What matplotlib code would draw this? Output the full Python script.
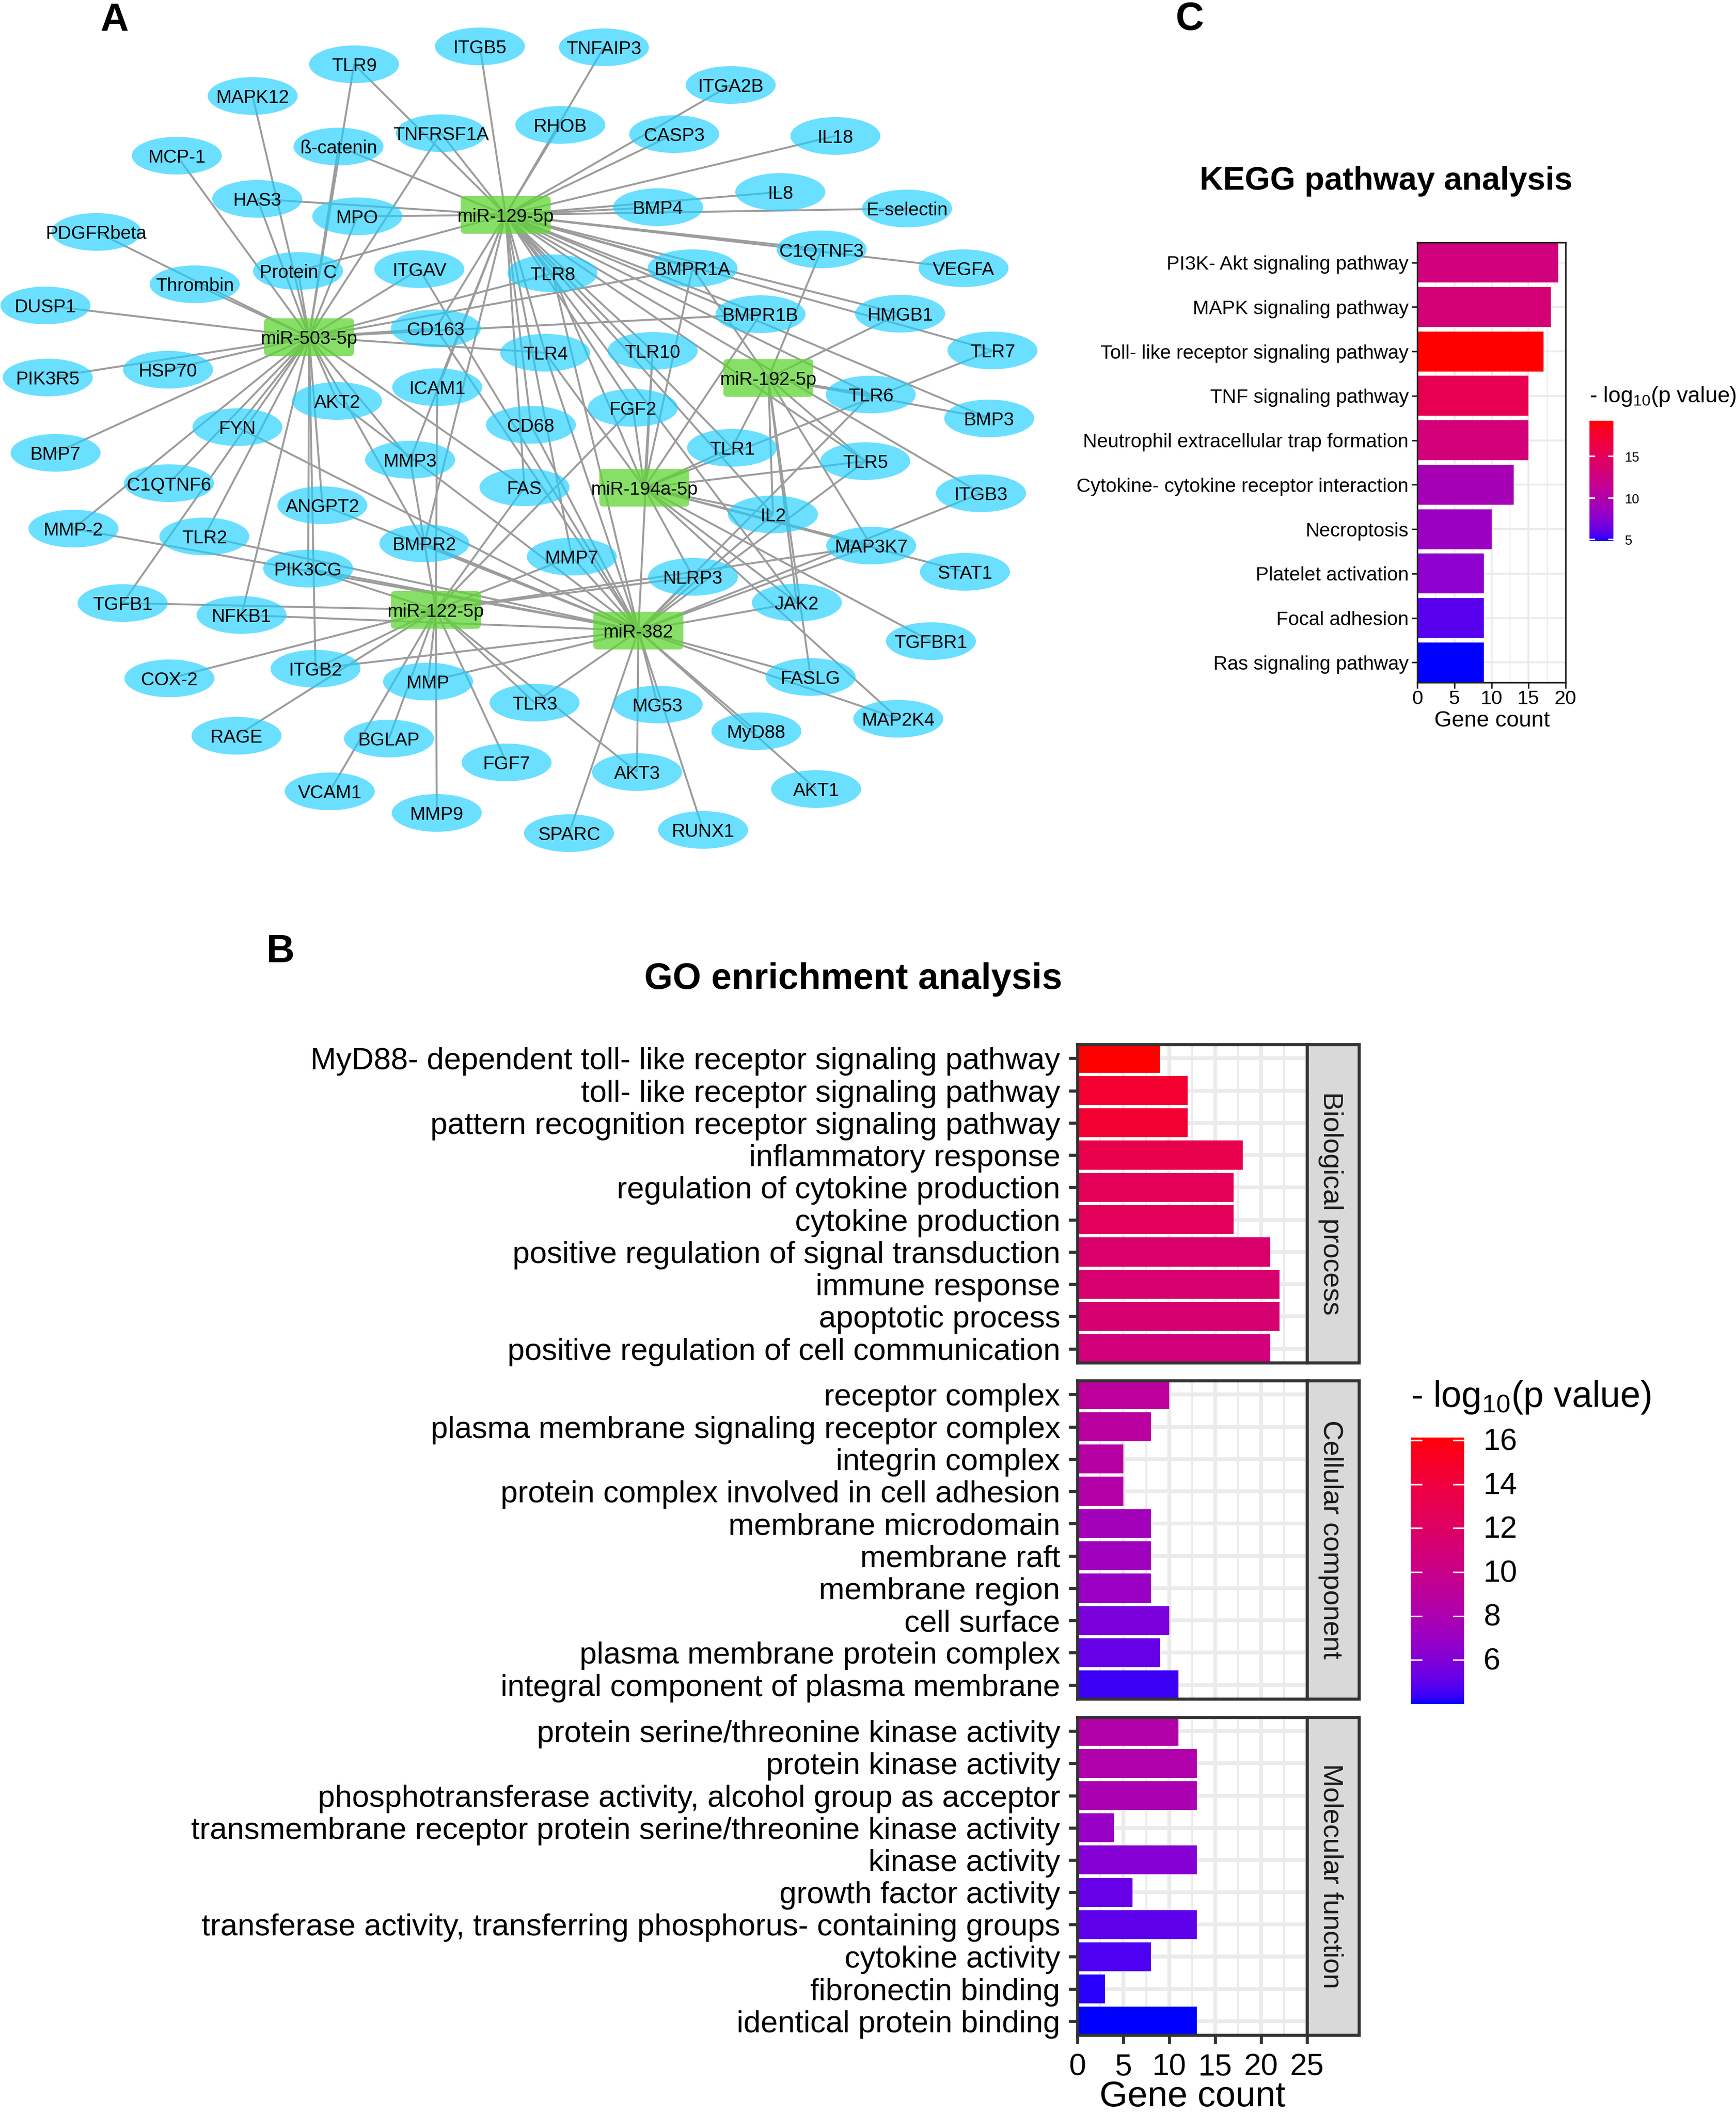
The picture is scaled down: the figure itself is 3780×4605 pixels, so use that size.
import numpy as np
import matplotlib
matplotlib.use("Agg")
import matplotlib.pyplot as plt
from matplotlib.colors import LinearSegmentedColormap, Normalize
from matplotlib.patches import Ellipse, FancyBboxPatch, Rectangle

plt.rcParams['font.family'] = ['Liberation Sans', 'DejaVu Sans']
plt.rcParams['mathtext.default'] = 'regular'
plt.rcParams['mathtext.fontset'] = 'custom'
plt.rcParams['mathtext.rm'] = 'Liberation Sans'

W, H = 3780, 4605

# ---------------- network data (layout) ----------------
hubs = {
    'miR-129-5p': (1101, 468), 'miR-503-5p': (673, 734), 'miR-192-5p': (1673, 823),
    'miR-194a-5p': (1403, 1062), 'miR-122-5p': (949, 1328), 'miR-382': (1390, 1373),
}
genes = {
    'TLR9': (771, 140), 'ITGB5': (1045, 101), 'MAPK12': (550, 209), 'MCP-1': (385, 339),
    'ß-catenin': (737, 319), 'TNFRSF1A': (960, 290), 'RHOB': (1220, 272), 'HAS3': (560, 433),
    'MPO': (778, 471), 'PDGFRbeta': (210, 505), 'Thrombin': (424, 619), 'Protein C': (649, 590),
    'ITGAV': (913, 586), 'TLR8': (1203, 595), 'DUSP1': (99, 665), 'CD163': (949, 715),
    'TLR4': (1187, 768), 'PIK3R5': (104, 822), 'HSP70': (366, 805), 'ICAM1': (952, 843),
    'AKT2': (734, 873), 'FYN': (517, 930), 'CD68': (1156, 925), 'BMP7': (121, 986),
    'TNFAIP3': (1315, 103), 'ITGA2B': (1591, 185), 'CASP3': (1468, 292), 'IL18': (1819, 296),
    'IL8': (1699, 418), 'BMP4': (1433, 451), 'E-selectin': (1975, 454), 'C1QTNF3': (1789, 543),
    'VEGFA': (2098, 584), 'BMPR1A': (1508, 584), 'BMPR1B': (1656, 684), 'HMGB1': (1960, 683),
    'TLR7': (2161, 763), 'TLR10': (1421, 764), 'TLR6': (1896, 859), 'BMP3': (2154, 911),
    'FGF2': (1378, 888), 'TLR1': (1594, 975), 'C1QTNF6': (368, 1052), 'MMP-2': (160, 1151),
    'TLR2': (445, 1168), 'MMP3': (893, 1001), 'FAS': (1142, 1061), 'ANGPT2': (702, 1100),
    'BMPR2': (924, 1183), 'MMP7': (1245, 1212), 'PIK3CG': (671, 1238), 'TGFB1': (267, 1313),
    'NFKB1': (526, 1339), 'ITGB2': (687, 1456), 'COX-2': (369, 1477), 'MMP': (932, 1484),
    'TLR3': (1164, 1530), 'RAGE': (515, 1602), 'BGLAP': (847, 1608), 'FGF7': (1103, 1660),
    'VCAM1': (718, 1723), 'MMP9': (951, 1770), 'SPARC': (1239, 1814), 'TLR5': (1884, 1004),
    'ITGB3': (2136, 1074), 'IL2': (1683, 1120), 'MAP3K7': (1897, 1188), 'STAT1': (2101, 1245),
    'NLRP3': (1509, 1256), 'JAK2': (1735, 1312), 'TGFBR1': (2027, 1396), 'FASLG': (1765, 1474),
    'MG53': (1432, 1534), 'MAP2K4': (1956, 1565), 'MyD88': (1647, 1592), 'AKT3': (1387, 1681),
    'AKT1': (1777, 1718), 'RUNX1': (1531, 1807),
}
targets = {
    'miR-129-5p': ['TLR9', 'ITGB5', 'TNFAIP3', 'ß-catenin', 'TNFRSF1A', 'RHOB', 'HAS3', 'MPO',
                   'Protein C', 'ITGA2B', 'CASP3', 'IL18', 'IL8', 'BMP4', 'E-selectin', 'C1QTNF3',
                   'VEGFA', 'BMPR1A', 'BMPR1B', 'HMGB1', 'TLR7', 'BMP3', 'ITGB3', 'TLR8', 'CD163',
                   'ICAM1', 'MMP3', 'BMPR2', 'TLR4', 'TLR10', 'CD68', 'FAS', 'MMP7', 'FGF2', 'TLR1',
                   'TLR5', 'IL2', 'JAK2', 'TLR6'],
    'miR-503-5p': ['MAPK12', 'MCP-1', 'TLR9', 'ß-catenin', 'TNFRSF1A', 'HAS3', 'MPO', 'PDGFRbeta',
                   'Thrombin', 'Protein C', 'ITGAV', 'DUSP1', 'HSP70', 'PIK3R5', 'BMP7', 'FYN',
                   'C1QTNF6', 'MMP-2', 'TLR2', 'TGFB1', 'NFKB1', 'ANGPT2', 'PIK3CG', 'ITGB2', 'AKT2',
                   'MMP3', 'BMPR2', 'FAS', 'CD163', 'TLR4', 'TLR8', 'BMPR1A', 'BMPR1B'],
    'miR-192-5p': ['BMPR1A', 'C1QTNF3', 'HMGB1', 'BMP3', 'TLR6', 'TLR1', 'IL2', 'JAK2', 'FASLG',
                   'TLR5', 'MAP3K7'],
    'miR-194a-5p': ['BMPR1A', 'BMPR1B', 'TLR7', 'FGF2', 'TLR10', 'TLR1', 'TLR5', 'IL2', 'MAP3K7',
                    'STAT1', 'NLRP3', 'JAK2', 'TGFBR1', 'MAP2K4', 'TLR8', 'TLR4'],
    'miR-122-5p': ['TGFB1', 'COX-2', 'RAGE', 'ITGB2', 'MMP', 'BGLAP', 'VCAM1', 'MMP9', 'FGF7', 'TLR3',
                   'AKT3', 'PIK3CG', 'ICAM1', 'MMP3', 'BMPR2', 'FAS', 'MMP7', 'FGF2', 'NLRP3', 'MAP3K7'],
    'miR-382': ['ITGAV', 'FYN', 'MMP-2', 'TLR2', 'NFKB1', 'ANGPT2', 'PIK3CG', 'ITGB2', 'MMP', 'TLR3',
                'AKT3', 'AKT2', 'CD163', 'CD68', 'BMPR2', 'MMP7', 'TLR4', 'TLR8', 'TLR10', 'ITGB3',
                'TLR6', 'TLR5', 'IL2', 'NLRP3', 'JAK2', 'MAP3K7', 'FASLG', 'MAP2K4', 'MG53', 'MyD88',
                'AKT1', 'RUNX1', 'SPARC'],
}

# ---------------- KEGG data ----------------
kegg_terms = ['PI3K- Akt signaling pathway', 'MAPK signaling pathway', 'Toll- like receptor signaling pathway',
              'TNF signaling pathway', 'Neutrophil extracellular trap formation',
              'Cytokine- cytokine receptor interaction', 'Necroptosis', 'Platelet activation',
              'Focal adhesion', 'Ras signaling pathway']
kegg_count = [19, 18, 17, 15, 15, 13, 10, 9, 9, 9]
kegg_logp = [12.8, 13.2, 19.28, 15.65, 13.0, 9.1, 8.4, 7.7, 5.8, 4.76]
kegg_range = (4.76, 19.3)

# ---------------- GO data ----------------
bp_terms = ['MyD88- dependent toll- like receptor signaling pathway', 'toll- like receptor signaling pathway',
            'pattern recognition receptor signaling pathway', 'inflammatory response',
            'regulation of cytokine production', 'cytokine production', 'positive regulation of signal transduction',
            'immune response', 'apoptotic process', 'positive regulation of cell communication']
bp_count = [9, 12, 12, 18, 17, 17, 21, 22, 22, 21]
bp_logp = [16.1, 14.6, 14.5, 13.2, 12.7, 12.5, 11.6, 11.4, 11.3, 10.8]

cc_terms = ['receptor complex', 'plasma membrane signaling receptor complex', 'integrin complex',
            'protein complex involved in cell adhesion', 'membrane microdomain', 'membrane raft', 'membrane region',
            'cell surface', 'plasma membrane protein complex', 'integral component of plasma membrane']
cc_count = [10, 8, 5, 5, 8, 8, 8, 10, 9, 11]
cc_logp = [9.1, 8.9, 8.6, 8.5, 7.5, 7.3, 7.0, 5.8, 5.2, 4.4]

mf_terms = ['protein serine/threonine kinase activity', 'protein kinase activity',
            'phosphotransferase activity, alcohol group as acceptor',
            'transmembrane receptor protein serine/threonine kinase activity', 'kinase activity',
            'growth factor activity', 'transferase activity, transferring phosphorus- containing groups',
            'cytokine activity', 'fibronectin binding', 'identical protein binding']
mf_count = [11, 13, 13, 4, 13, 6, 13, 8, 3, 13]
mf_logp = [8.4, 8.2, 7.9, 6.9, 6.1, 5.2, 5.0, 4.7, 4.2, 4.0]
go_range = (4.0, 16.13)
facets = ['Biological process', 'Cellular component', 'Molecular function']


# ---------------- blue-to-red gradient interpolated in Lab ----------------
def srgb2lab(c):
    c = np.array(c, float)
    l = np.where(c > 0.04045, ((c + 0.055) / 1.055) ** 2.4, c / 12.92)
    m = np.array([[0.4124, 0.3576, 0.1805], [0.2126, 0.7152, 0.0722], [0.0193, 0.1192, 0.9505]])
    xyz = m @ l / np.array([0.95047, 1.0, 1.08883])
    f = np.where(xyz > 0.008856, np.cbrt(xyz), 7.787 * xyz + 16 / 116)
    return np.array([116 * f[1] - 16, 500 * (f[0] - f[1]), 200 * (f[1] - f[2])])


def lab2srgb(lab):
    fy = (lab[0] + 16) / 116
    f = np.array([fy + lab[1] / 500, fy, fy - lab[2] / 200])
    xyz = np.where(f ** 3 > 0.008856, f ** 3, (f - 16 / 116) / 7.787) * np.array([0.95047, 1.0, 1.08883])
    m = np.array([[3.2406, -1.5372, -0.4986], [-0.9689, 1.8758, 0.0415], [0.0557, -0.2040, 1.0570]])
    l = np.clip(m @ xyz, 0, 1)
    return np.clip(np.where(l > 0.0031308, 1.055 * l ** (1 / 2.4) - 0.055, 12.92 * l), 0, 1)


_b, _r = srgb2lab([0, 0, 1]), srgb2lab([1, 0, 0])
cmap = LinearSegmentedColormap.from_list('labgrad', [lab2srgb(_b + (_r - _b) * t) for t in np.linspace(0, 1, 64)], N=256)

# ---------------- figure ----------------
fig = plt.figure(figsize=(W / 300, H / 300), dpi=300, facecolor='white')


def px_axes(x0, y0, x1, y1, **kw):
    return fig.add_axes([x0 / W, 1 - y1 / H, (x1 - x0) / W, (y1 - y0) / H], **kw)


bg = fig.add_axes([0, 0, 1, 1], zorder=5)
bg.set_xlim(0, W)
bg.set_ylim(H, 0)
bg.axis('off')
bg.patch.set_alpha(0)

# network
EDGE = '#9C9C9C'
NODE_FS = 9.7
DY = 4  # centred text sits slightly high because of the descender box
for hub, genelist in targets.items():
    hx, hy = hubs[hub]
    for g in genelist:
        gx, gy = genes[g]
        bg.plot([hx, gx], [hy, gy], color=EDGE, lw=1.0, solid_capstyle='butt', zorder=1)
for g, (x, y) in genes.items():
    bg.add_patch(Ellipse((x, y), 196, 82, facecolor=(27 / 255, 207 / 255, 1, 0.65), edgecolor='none', zorder=2))
    bg.text(x, y + DY, g, ha='center', va='center', fontsize=NODE_FS, color='black', zorder=4)
for h, (x, y) in hubs.items():
    bg.add_patch(FancyBboxPatch((x - 98, y - 41), 196, 82, boxstyle='round,pad=0,rounding_size=9', mutation_aspect=1,
                                facecolor=(96 / 255, 213 / 255, 53 / 255, 0.75), edgecolor='none',
                                lw=0, zorder=3))
    bg.text(x, y + DY, h, ha='center', va='center', fontsize=NODE_FS, color='black', zorder=4)

# panel letters and titles
bg.text(250, 67, 'A', fontsize=20.5, fontweight='bold', ha='center', va='baseline')
bg.text(610, 2095, 'B', fontsize=20.5, fontweight='bold', ha='center', va='baseline')
bg.text(2590, 65, 'C', fontsize=20.5, fontweight='bold', ha='center', va='baseline')
bg.text(3018, 395, 'KEGG pathway analysis', fontsize=17, fontweight='bold', ha='center', va='center')
bg.text(1858, 2132, 'GO enrichment analysis', fontsize=19.1, fontweight='bold', ha='center', va='center')


def bar_panel(box, terms, counts, logp, norm, xlim, ylim, fs, major_lw, minor_lw, frame_lw, frame_c, tick_w, tick_l, pad):
    ax = px_axes(*box)
    y = np.arange(len(terms))
    ax.set_axisbelow(True)
    ax.barh(y, counts, height=0.9, color=cmap(norm(np.array(logp))), linewidth=0, zorder=3)
    ax.set_xlim(*xlim)
    ax.set_ylim(*ylim)
    ax.set_yticks(y)
    ax.set_yticklabels(terms, fontsize=fs, color='black')
    ax.set_xticks(np.arange(xlim[0], xlim[1] + 0.1, 5))
    ax.set_xticks(np.arange(xlim[0] + 2.5, xlim[1], 5), minor=True)
    ax.grid(True, which='major', color='#EBEBEB', lw=major_lw, zorder=0)
    ax.grid(True, which='minor', axis='x', color='#EBEBEB', lw=minor_lw, zorder=0)
    ax.tick_params(axis='x', which='minor', length=0)
    ax.tick_params(axis='both', which='major', width=tick_w, length=tick_l, color=frame_c, pad=pad)
    for s in ax.spines.values():
        s.set_linewidth(frame_lw)
        s.set_color(frame_c)
        s.set_zorder(6)
    return ax


# KEGG panel
knorm = Normalize(*kegg_range)
kax = bar_panel((3086, 528, 3409, 1486), kegg_terms, kegg_count, kegg_logp, knorm, (0, 20), (9.45, -0.45),
                10.2, 1.0, 0.5, 0.8, '#222222', 0.8, 3, 1.5)
kax.tick_params(axis='x', labelsize=10.4, pad=0.8)
bg.text(3249, 1570, 'Gene count', fontsize=11.7, ha='center', va='center')

# GO panels
gnorm = Normalize(*go_range)
go_boxes = [(2346, 2274, 2846, 2967), (2346, 3006, 2846, 3699), (2346, 3739, 2846, 4431)]
go_sets = [(bp_terms, bp_count, bp_logp), (cc_terms, cc_count, cc_logp), (mf_terms, mf_count, mf_logp)]
for i, (box, (t, c, l), name) in enumerate(zip(go_boxes, go_sets, facets)):
    a = bar_panel(box, t, c, l, gnorm, (0, 25), (9.43, -0.43), 16.08, 2.0, 1.0, 1.6, '#333333', 1.6, 4.5, 4.5)
    if i < 2:
        a.tick_params(axis='x', which='major', length=0, labelbottom=False)
    else:
        a.tick_params(axis='x', labelsize=16, pad=5)
    bg.add_patch(Rectangle((box[2], box[1]), 113, box[3] - box[1], facecolor='#D9D9D9', edgecolor='#333333', lw=1.6, zorder=1))
    bg.text(box[2] + 52, (box[1] + box[3]) / 2, name, rotation=270, fontsize=14.5, color='#1A1A1A', ha='center', va='center')
bg.text(2597, 4586, 'Gene count', fontsize=18.8, ha='center', va='baseline')


# colourbars
def colorbar(box, rng, ticks, title, tx, ty, tfs, lfs, lx, tl):
    ax = px_axes(*box)
    ax.imshow(np.linspace(1, 0, 256)[:, None], cmap=cmap, aspect='auto', extent=(0, 1, rng[0], rng[1]), vmin=0, vmax=1)
    ax.set_xticks([])
    ax.set_yticks([])
    for s in ax.spines.values():
        s.set_visible(False)
    for v in ticks:
        ax.plot([0, tl], [v, v], color='white', lw=0.8)
        ax.plot([1 - tl, 1], [v, v], color='white', lw=0.8)
        py = box[3] - (v - rng[0]) / (rng[1] - rng[0]) * (box[3] - box[1])
        bg.text(lx, py + DY, str(v), fontsize=lfs, ha='left', va='center')
    ax.set_xlim(0, 1)
    ax.set_ylim(*rng)
    bg.text(tx, ty, title, fontsize=tfs, ha='left', va='center')


legend_title = '- log$_{10}$(p value)'
colorbar((3461, 916, 3513, 1178), kegg_range, [5, 10, 15], legend_title, 3461, 863, 11.6, 7, 3538, 0.2)
colorbar((3072, 3130, 3188, 3710), go_range, [6, 8, 10, 12, 14, 16], legend_title, 3072, 3043, 19, 16, 3230, 0.2)

fig.savefig('out.png', dpi=300, facecolor='white')
